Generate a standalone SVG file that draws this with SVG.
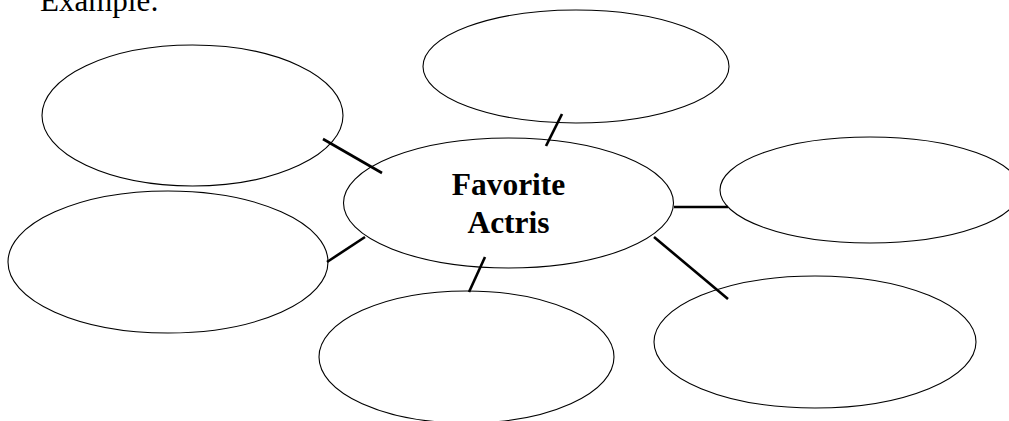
<svg xmlns="http://www.w3.org/2000/svg" width="1009" height="421" viewBox="0 0 1009 421">
<style>
.bubble{fill:#fff;stroke:#000;stroke-width:1.1}
.conn{stroke:#000;stroke-width:2.6;stroke-linecap:butt}
.lbl{font-family:"Liberation Serif","Times New Roman",serif;font-weight:bold;font-size:31.5px;text-anchor:middle;fill:#000}
.title{font-family:"Liberation Serif","Times New Roman",serif;font-size:31px;fill:#000}
</style>
<rect width="1009" height="421" fill="#fff"/>
<text class="title" x="40" y="11">Example:</text>
<g id="connectors">
<line class="conn" x1="323" y1="139" x2="382" y2="173"/>
<line class="conn" x1="562" y1="114" x2="546" y2="146"/>
<line class="conn" x1="674" y1="207" x2="728" y2="207"/>
<line class="conn" x1="654" y1="237" x2="728" y2="299"/>
<line class="conn" x1="365" y1="237" x2="327" y2="262"/>
<line class="conn" x1="485" y1="257" x2="469" y2="292"/>
</g>
<g id="node-topleft"><ellipse class="bubble" cx="192.5" cy="115.5" rx="150.5" ry="70.5" fill="none" style="fill:none"/></g>
<g id="node-top"><ellipse class="bubble" cx="576" cy="66.5" rx="153" ry="56.5" style="fill:none"/></g>
<g id="node-right"><ellipse class="bubble" cx="870" cy="190" rx="150" ry="53" style="fill:none"/></g>
<g id="node-bottomright"><ellipse class="bubble" cx="815" cy="342" rx="161" ry="66" style="fill:none"/></g>
<g id="node-left"><ellipse class="bubble" cx="168" cy="262" rx="160" ry="71" style="fill:none"/></g>
<g id="node-bottom"><ellipse class="bubble" cx="466.5" cy="357" rx="147.5" ry="66" style="fill:none"/></g>
<g id="node-center">
<ellipse class="bubble" cx="508.5" cy="203" rx="165" ry="65" style="fill:none"/>
<text class="lbl" x="508.5" y="195">Favorite</text>
<text class="lbl" x="508.5" y="233">Actris</text>
</g>
</svg>
